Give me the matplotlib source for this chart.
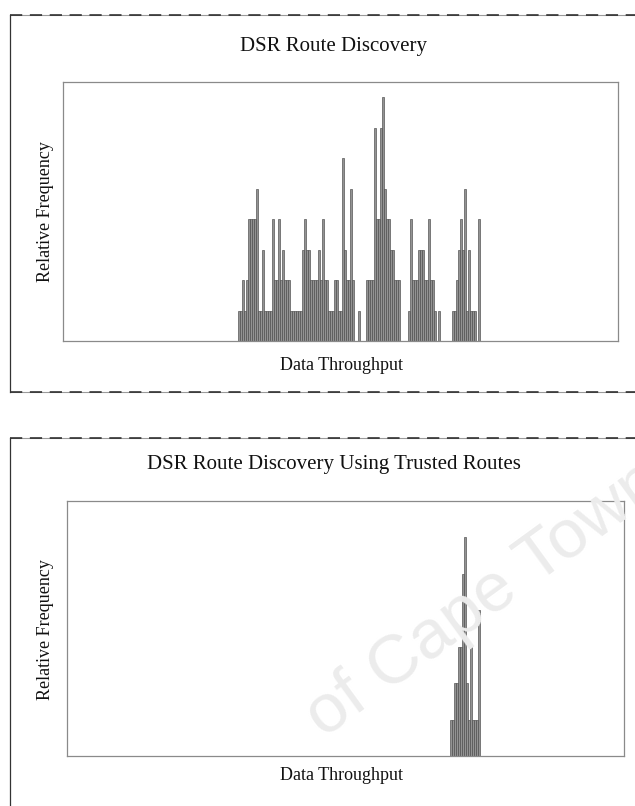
import numpy as np
import matplotlib
matplotlib.use("Agg")
import matplotlib.pyplot as plt
from matplotlib.lines import Line2D

# throughput bin index -> number of occurrences
dsr_bins = list(range(0, 121))
dsr_counts = [
    1, 1, 2, 1, 2, 4, 4, 4, 4, 5,
    1, 1, 3, 1, 1, 1, 1, 4, 2, 2,
    4, 2, 3, 2, 2, 2, 1, 1, 1, 1,
    1, 1, 3, 4, 3, 3, 2, 2, 2, 2,
    3, 2, 4, 2, 2, 1, 1, 1, 2, 2,
    1, 1, 6, 3, 2, 2, 5, 2, 0, 0,
    1, 0, 0, 0, 2, 2, 2, 2, 7, 4,
    4, 7, 8, 5, 4, 4, 3, 3, 2, 2,
    2, 0, 0, 0, 0, 1, 4, 2, 2, 2,
    3, 3, 3, 2, 2, 4, 2, 2, 1, 0,
    1, 0, 0, 0, 0, 0, 0, 1, 1, 2,
    3, 4, 3, 5, 1, 3, 1, 1, 1, 0,
    4,
]

trusted_bins = list(range(100, 115))
trusted_counts = [1, 1, 2, 2, 3, 3, 5, 6, 2, 1, 3, 1, 1, 1, 4]

W, H = 635, 806
fig = plt.figure(figsize=(W / 100, H / 100), dpi=100)
plt.rcParams['font.family'] = ['Liberation Serif', 'DejaVu Serif']


def px_box(x0, y0, x1, y1):
    # pixel rectangle -> figure fraction [left, bottom, width, height]
    return [x0 / W, 1 - y1 / H, (x1 - x0) / W, (y1 - y0) / H]


# faint watermark behind the lower chart
fig.text(485 / W, 1 - 600 / H, "of Cape Town", fontsize=50, color="#ececec",
         family="Liberation Sans", rotation=36, ha="center", va="center",
         zorder=0)


def outer_frame(x0, y0, x1, y1):
    xs = [x0 / W, x1 / W]
    for y in (y0, y1):
        yy = 1 - y / H
        fig.add_artist(Line2D(xs, [yy, yy], color="#9a9a9a", lw=0.8))
        fig.add_artist(Line2D(xs, [yy, yy], color="#222222", lw=1.1,
                              ls=(0, (8, 5))))
    fig.add_artist(Line2D([x0 / W, x0 / W], [1 - y0 / H, 1 - y1 / H],
                          color="#333333", lw=0.9))


outer_frame(10, 15, 640, 392)
outer_frame(10, 438, 640, 830)


def histogram(box, bins, counts, xlim, ylim, title, title_y, ylab_y, xlab_y):
    ax = fig.add_axes(px_box(*box))
    ax.set_facecolor("none")
    ax.bar(bins, counts, width=1.0, color="#939393", edgecolor="#4a4a4a",
           linewidth=0.45, align="center")
    ax.set_xlim(*xlim)
    ax.set_ylim(*ylim)
    ax.set_xticks([])
    ax.set_yticks([])
    for s in ax.spines.values():
        s.set_color("#8a8a8a")
        s.set_linewidth(0.9)
    fig.text(334 / W, 1 - title_y / H, title, fontsize=15, ha="center",
             va="center", color="#111111")
    fig.text(342 / W, 1 - xlab_y / H, "Data Throughput", fontsize=13,
             ha="center", va="center", color="#111111")
    fig.text(45 / W, 1 - ylab_y / H, "Relative Frequency", fontsize=13,
             rotation=90, ha="center", va="center", color="#111111")
    return ax


histogram((63, 82, 618, 341), dsr_bins, dsr_counts, (-88, 189.5), (0, 8.5),
          "DSR Route Discovery", 47, 212, 365)
histogram((67, 501, 624, 756), trusted_bins, trusted_counts, (-92, 186.5),
          (0, 7.0), "DSR Route Discovery Using Trusted Routes", 464, 630, 776)

fig.savefig("out.png", dpi=100)
